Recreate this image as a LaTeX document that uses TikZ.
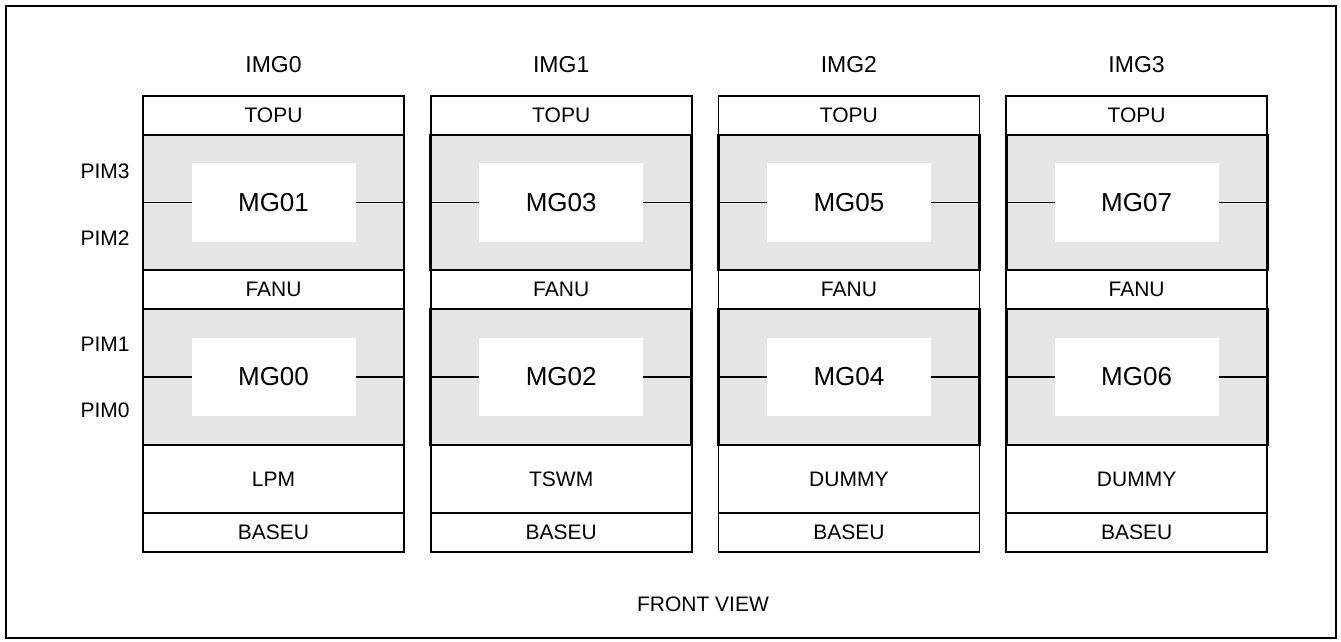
\documentclass[tikz,border=0pt]{standalone}
\usepackage{fontspec}
\setmainfont{Liberation Sans}
\usepackage{tikz}
\usetikzlibrary{positioning}
\definecolor{MGgray}{RGB}{230,230,230}

\begin{document}
\begin{tikzpicture}[
      x=1pt, y=-1pt,
      node distance=0pt,
      unit/.style={rectangle, draw, line width=1.7pt, minimum width=261pt, minimum height=39pt, inner sep=0pt, outer sep=0pt, font=\fontsize{21}{25}\selectfont},
      mgblock/.style={rectangle, draw, line width=2.8pt, fill=MGgray, minimum width=261pt, inner sep=0pt, outer sep=0pt},
      mgcore/.style={rectangle, fill=white, minimum width=164pt, minimum height=79pt, inner sep=0pt, outer sep=0pt, font=\fontsize{26}{30}\selectfont},
      lbl/.style={font=\fontsize{21}{25}\selectfont},
      mgline/.style={line width=1.7pt}
    ]
    \useasboundingbox (0,0) rectangle (1341,642);
    % Outer frame
    \draw[line width=2.2pt] (6,6) rectangle (1336,638);

    % One column per IMG
    \foreach \i/\up/\lo/\mid in {0/01/00/LPM, 1/03/02/TSWM, 2/05/04/DUMMY, 3/07/06/DUMMY} {
      \node[lbl, font=\fontsize{23}{27}\selectfont] (img\i) at ({273.5+287.7*\i},65) {IMG\i};
      \node[unit] (top\i) at ({273.5+287.7*\i},115.5) {TOPU};
      \node[unit, below=135pt of top\i] (fan\i) {FANU};
      \node[unit, minimum height=68pt, below=136pt of fan\i] (mid\i) {\mid};
      \node[unit, below=of mid\i] (base\i) {BASEU};
      % gray MG slots, drawn over the unit borders
      \node[mgblock, minimum height=135pt, below=of top\i] (gu\i) {};
      \node[mgblock, minimum height=136pt, below=of fan\i] (gl\i) {};
      \node[mgcore] (cu\i) at (gu\i) {MG\up};
      \node[mgcore, minimum height=78pt] (cl\i) at (gl\i) {MG\lo};
      \draw[mgline] (gu\i.west) -- (cu\i.west) (cu\i.east) -- (gu\i.east);
      \draw[mgline] (gl\i.west) -- (cl\i.west) (cl\i.east) -- (gl\i.east);
    }

    % PIM slot labels
    \node[lbl, anchor=west] (pim3) at (77,171) {PIM3};
    \node[lbl, anchor=west] (pim2) at (77,238) {PIM2};
    \node[lbl, anchor=west] (pim1) at (77,344) {PIM1};
    \node[lbl, anchor=west] (pim0) at (77,410) {PIM0};

    \node[lbl] (view) at (703,604) {FRONT VIEW};
    \end{tikzpicture}
\end{document}
